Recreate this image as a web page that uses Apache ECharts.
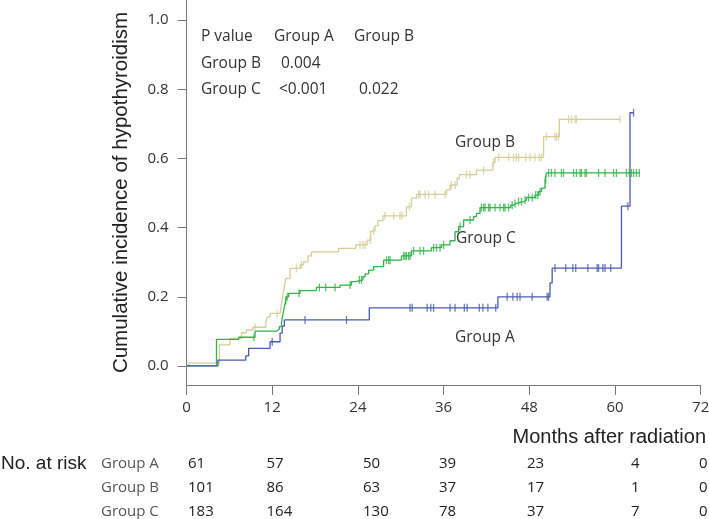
<!DOCTYPE html>
<html><head><meta charset="utf-8">
<script src="https://cdn.jsdelivr.net/npm/echarts@6/dist/echarts.min.js"></script>
<style>html,body{margin:0;padding:0;background:#fff}#c{width:709px;height:519px}</style>
</head><body><div id="c"></div>
<script>
// ---- data ----
const xTicks = [0, 12, 24, 36, 48, 60, 72];
const yTicks = [0, 0.2, 0.4, 0.6, 0.8, 1.0];

const groupNames = ['Group A', 'Group B', 'Group C'];
const xTitle = 'Months after radiation';
const yTitle = 'Cumulative incidence of hypothyroidism';

const aTimes = [0, 4.4, 8.3, 8.7, 11.7, 13.1, 13.4, 13.7, 25.6, 43.6, 50.9, 51.2, 60.9, 62.1];
const aVals  = [0, 0.017, 0.029, 0.051, 0.07, 0.095, 0.115, 0.133, 0.168, 0.2, 0.24, 0.283, 0.462, 0.732];
const aEnd = 62.6;
const aCensor = [12.0, 16.6, 22.4, 31.3, 31.6, 33.7, 34.2, 34.6, 36.9, 37.6, 38.9, 39.3, 41.0, 41.5, 42.2, 43.3,
  44.9, 45.7, 46.3, 46.7, 48.4, 50.5, 50.7, 51.6, 53.1, 54.1, 54.5, 56.2, 57.5, 57.7, 58.3, 58.6, 59.4, 61.8, 62.6];

const bTimes = [0, 0.3, 4.6, 6.1, 7.7, 8.4, 9.3, 11.1, 11.3, 11.7, 13.1, 13.3, 13.5, 13.7, 13.9, 14.5, 15.9, 16.4, 17.0, 17.5,
  21.3, 23.7, 25.3, 25.8, 26.4, 26.8, 27.5, 30.8, 31.5, 32.2, 36.4, 36.9, 37.9, 38.2, 40.6, 42.9, 43.2, 50.0, 52.2];
const bVals  = [0, 0.008, 0.061, 0.080, 0.096, 0.104, 0.112, 0.125, 0.142, 0.152, 0.157, 0.18, 0.205, 0.23, 0.253, 0.282, 0.292, 0.301, 0.318, 0.330,
  0.340, 0.350, 0.364, 0.39, 0.405, 0.42, 0.434, 0.460, 0.485, 0.496, 0.509, 0.523, 0.542, 0.553, 0.566, 0.588, 0.603, 0.663, 0.713];
const bEnd = 60.7;
const bCensor = [9.6, 12.7, 15.4, 16.1, 24.3, 24.7, 25.0, 25.7, 26.2, 27.8, 29.0, 29.9, 30.2, 31.2, 32.5, 32.7, 33.4, 33.9, 34.8, 36.2,
  37.1, 37.6, 39.2, 39.7, 41.6, 43.0, 43.7, 45.1, 45.8, 46.2, 46.5, 47.5, 48.1, 48.8, 49.4, 49.7, 50.4, 51.6, 51.8, 52.1,
  53.5, 53.9, 54.4, 54.6, 60.7];

const cTimes = [0, 4.2, 7.3, 9.6, 12.6, 13.0, 13.3, 13.5, 13.7, 13.9, 14.0, 14.3, 15.9, 18.2, 21.5, 23.1, 23.7, 24.7, 25.0, 25.5,
  26.2, 27.6, 30.1, 31.5, 34.3, 35.7, 36.9, 37.6, 38.1, 38.8, 40.2, 40.6, 41.1, 45.4, 45.8, 46.2, 47.2, 47.6, 48.8, 49.3,
  49.7, 50.2, 50.4];
const cVals  = [0, 0.077, 0.083, 0.101, 0.106, 0.114, 0.125, 0.15, 0.17, 0.19, 0.20, 0.21, 0.218, 0.227, 0.234, 0.244, 0.249, 0.258, 0.266, 0.277,
  0.287, 0.306, 0.318, 0.333, 0.342, 0.350, 0.362, 0.388, 0.403, 0.422, 0.432, 0.441, 0.458, 0.465, 0.470, 0.475, 0.480, 0.487, 0.494, 0.504,
  0.514, 0.538, 0.558];
const cEnd = 63.5;
const cCensor = [9.45, 13.9, 14.1, 15.75, 18.6, 19.5, 20.8, 22.9, 24.2, 24.5, 28.0, 28.3, 28.5, 30.4, 30.6, 30.8, 31.1, 31.3, 31.8, 32.7,
  33.2, 34.6, 35.0, 35.5, 36.0, 38.3, 39.7, 41.3, 41.6, 41.8, 42.3, 42.5, 43.2, 43.9, 44.4, 44.6, 45.1, 45.6, 46.0, 46.5,
  46.9, 47.4, 47.9, 48.4, 48.9, 49.2, 49.5, 50.3, 50.7, 51.1, 51.6, 52.5, 52.8, 54.2, 54.6, 55.1, 55.3, 55.8, 56.0, 57.7,
  58.6, 59.8, 60.2, 61.6, 62.0, 62.3, 62.6, 63.0, 63.4];

const riskA = [61, 57, 50, 39, 23, 4, 0];
const riskB = [101, 86, 63, 37, 17, 1, 0];
const riskC = [183, 164, 130, 78, 37, 7, 0];

const pHeader = ['P value', 'Group A', 'Group B'];
const pRowB = ['Group B', '0.004', ''];
const pRowC = ['Group C', '<0.001', '0.022'];

// ---- helpers ----
function stepLine(times, vals, end) {
  const d = times.map((t, i) => [t, vals[i]]);
  d.push([end, vals[vals.length - 1]]);
  return d;
}
function valueAt(times, vals, t) {
  let v = vals[0];
  for (let i = 0; i < times.length; i++) if (times[i] <= t) v = vals[i];
  return v;
}
function censorPts(cens, times, vals) { return cens.map(t => [t, valueAt(times, vals, t)]); }

const colA = '#4a5cae', colB = '#d6cd98', colC = '#2fb34a';
const SANS = 'Open Sans', ARIAL = 'Liberation Sans';

function txt(text, x, y, opts) {
  opts = opts || {};
  return {
    type: 'text', x: x, y: y, silent: true,
    style: {
      text: text, fill: opts.fill || '#333',
      fontSize: opts.size || 15, fontFamily: opts.family || SANS,
      textAlign: opts.align || 'left', align: opts.align || 'left',
      textVerticalAlign: 'middle', verticalAlign: 'middle'
    }
  };
}

const graphics = [];
// x-axis title
graphics.push(txt(xTitle, 706, 437, {size: 20, family: ARIAL, fill: '#222', align: 'right'}));
// p-value table
const pColX = [201, 274, 354];
pHeader.forEach((t, i) => graphics.push(txt(t, pColX[i], 37, {size: 15.5})));
const pValX = [201, 281, 359];
pRowB.forEach((t, i) => t && graphics.push(txt(t, pValX[i], 64, {size: 15.5})));
pRowC.forEach((t, i) => t && graphics.push(txt(t, i === 1 ? 279 : pValX[i], 89.5, {size: 15.5})));
// curve labels
graphics.push(txt(groupNames[1], 455, 143, {size: 15.5}));
graphics.push(txt(groupNames[2], 456, 239, {size: 15.5}));
graphics.push(txt(groupNames[0], 455, 338, {size: 15.5}));
// at-risk table
graphics.push(txt('No. at risk', 1, 464, {size: 19, family: ARIAL, fill: '#222'}));
const rowY = [464, 488, 512];
const colLeft = [188, 266.5, 363, 439, 527, 631, 699];
[riskA, riskB, riskC].forEach((row, r) => {
  graphics.push(txt(groupNames[r], 101, rowY[r], {size: 15, fill: '#555'}));
  row.forEach((v, i) => graphics.push(txt(String(v), colLeft[i], rowY[r], {size: 15, fill: '#222'})));
});

const chart = echarts.init(document.getElementById('c'), null, {renderer: 'canvas'});
const lineS = (name, data, color) => ({
  name: name, type: 'line', step: 'end', data: data, showSymbol: false, silent: true,
  lineStyle: {color: color, width: 1.3}, itemStyle: {color: color}, z: 2
});
const censS = (name, data, color) => ({
  name: name + ' censored', type: 'scatter', data: data, symbol: 'rect', symbolSize: [1.3, 8], silent: true,
  itemStyle: {color: color}, z: 3
});

chart.setOption({
  animation: false,
  backgroundColor: '#fff',
  grid: {left: 186.5, right: 8.3, top: 0, bottom: 134, containLabel: false, outerBoundsMode: 'none'},
  xAxis: {
    type: 'value', min: 0, max: 72, interval: 12,
    axisLine: {show: true, onZero: false, lineStyle: {color: '#777', width: 1}},
    axisTick: {show: true, length: 10, lineStyle: {color: '#777'}},
    axisLabel: {margin: 15, fontFamily: SANS, fontSize: 15, color: '#333', verticalAlign: 'top', hideOverlap: false},
    splitLine: {show: false}
  },
  yAxis: {
    type: 'value', min: -0.055, max: 1.058,
    name: yTitle, nameLocation: 'middle', nameGap: 55,
    nameTextStyle: {fontFamily: ARIAL, fontSize: 20.5, color: '#222'},
    axisLine: {show: true, onZero: false, lineStyle: {color: '#777', width: 1}},
    axisTick: {show: true, length: 9, lineStyle: {color: '#777'}, customValues: yTicks},
    axisLabel: {margin: 18, fontFamily: SANS, fontSize: 15, color: '#333', customValues: yTicks,
      formatter: v => Number(v).toFixed(1)},
    splitLine: {show: false}
  },
  series: [
    lineS(groupNames[1], stepLine(bTimes, bVals, bEnd), colB),
    lineS(groupNames[2], stepLine(cTimes, cVals, cEnd), colC),
    lineS(groupNames[0], stepLine(aTimes, aVals, aEnd), colA),
    censS(groupNames[1], censorPts(bCensor, bTimes, bVals), colB),
    censS(groupNames[2], censorPts(cCensor, cTimes, cVals), colC),
    censS(groupNames[0], censorPts(aCensor, aTimes, aVals), colA)
  ],
  graphic: graphics
});
</script>
</body></html>
